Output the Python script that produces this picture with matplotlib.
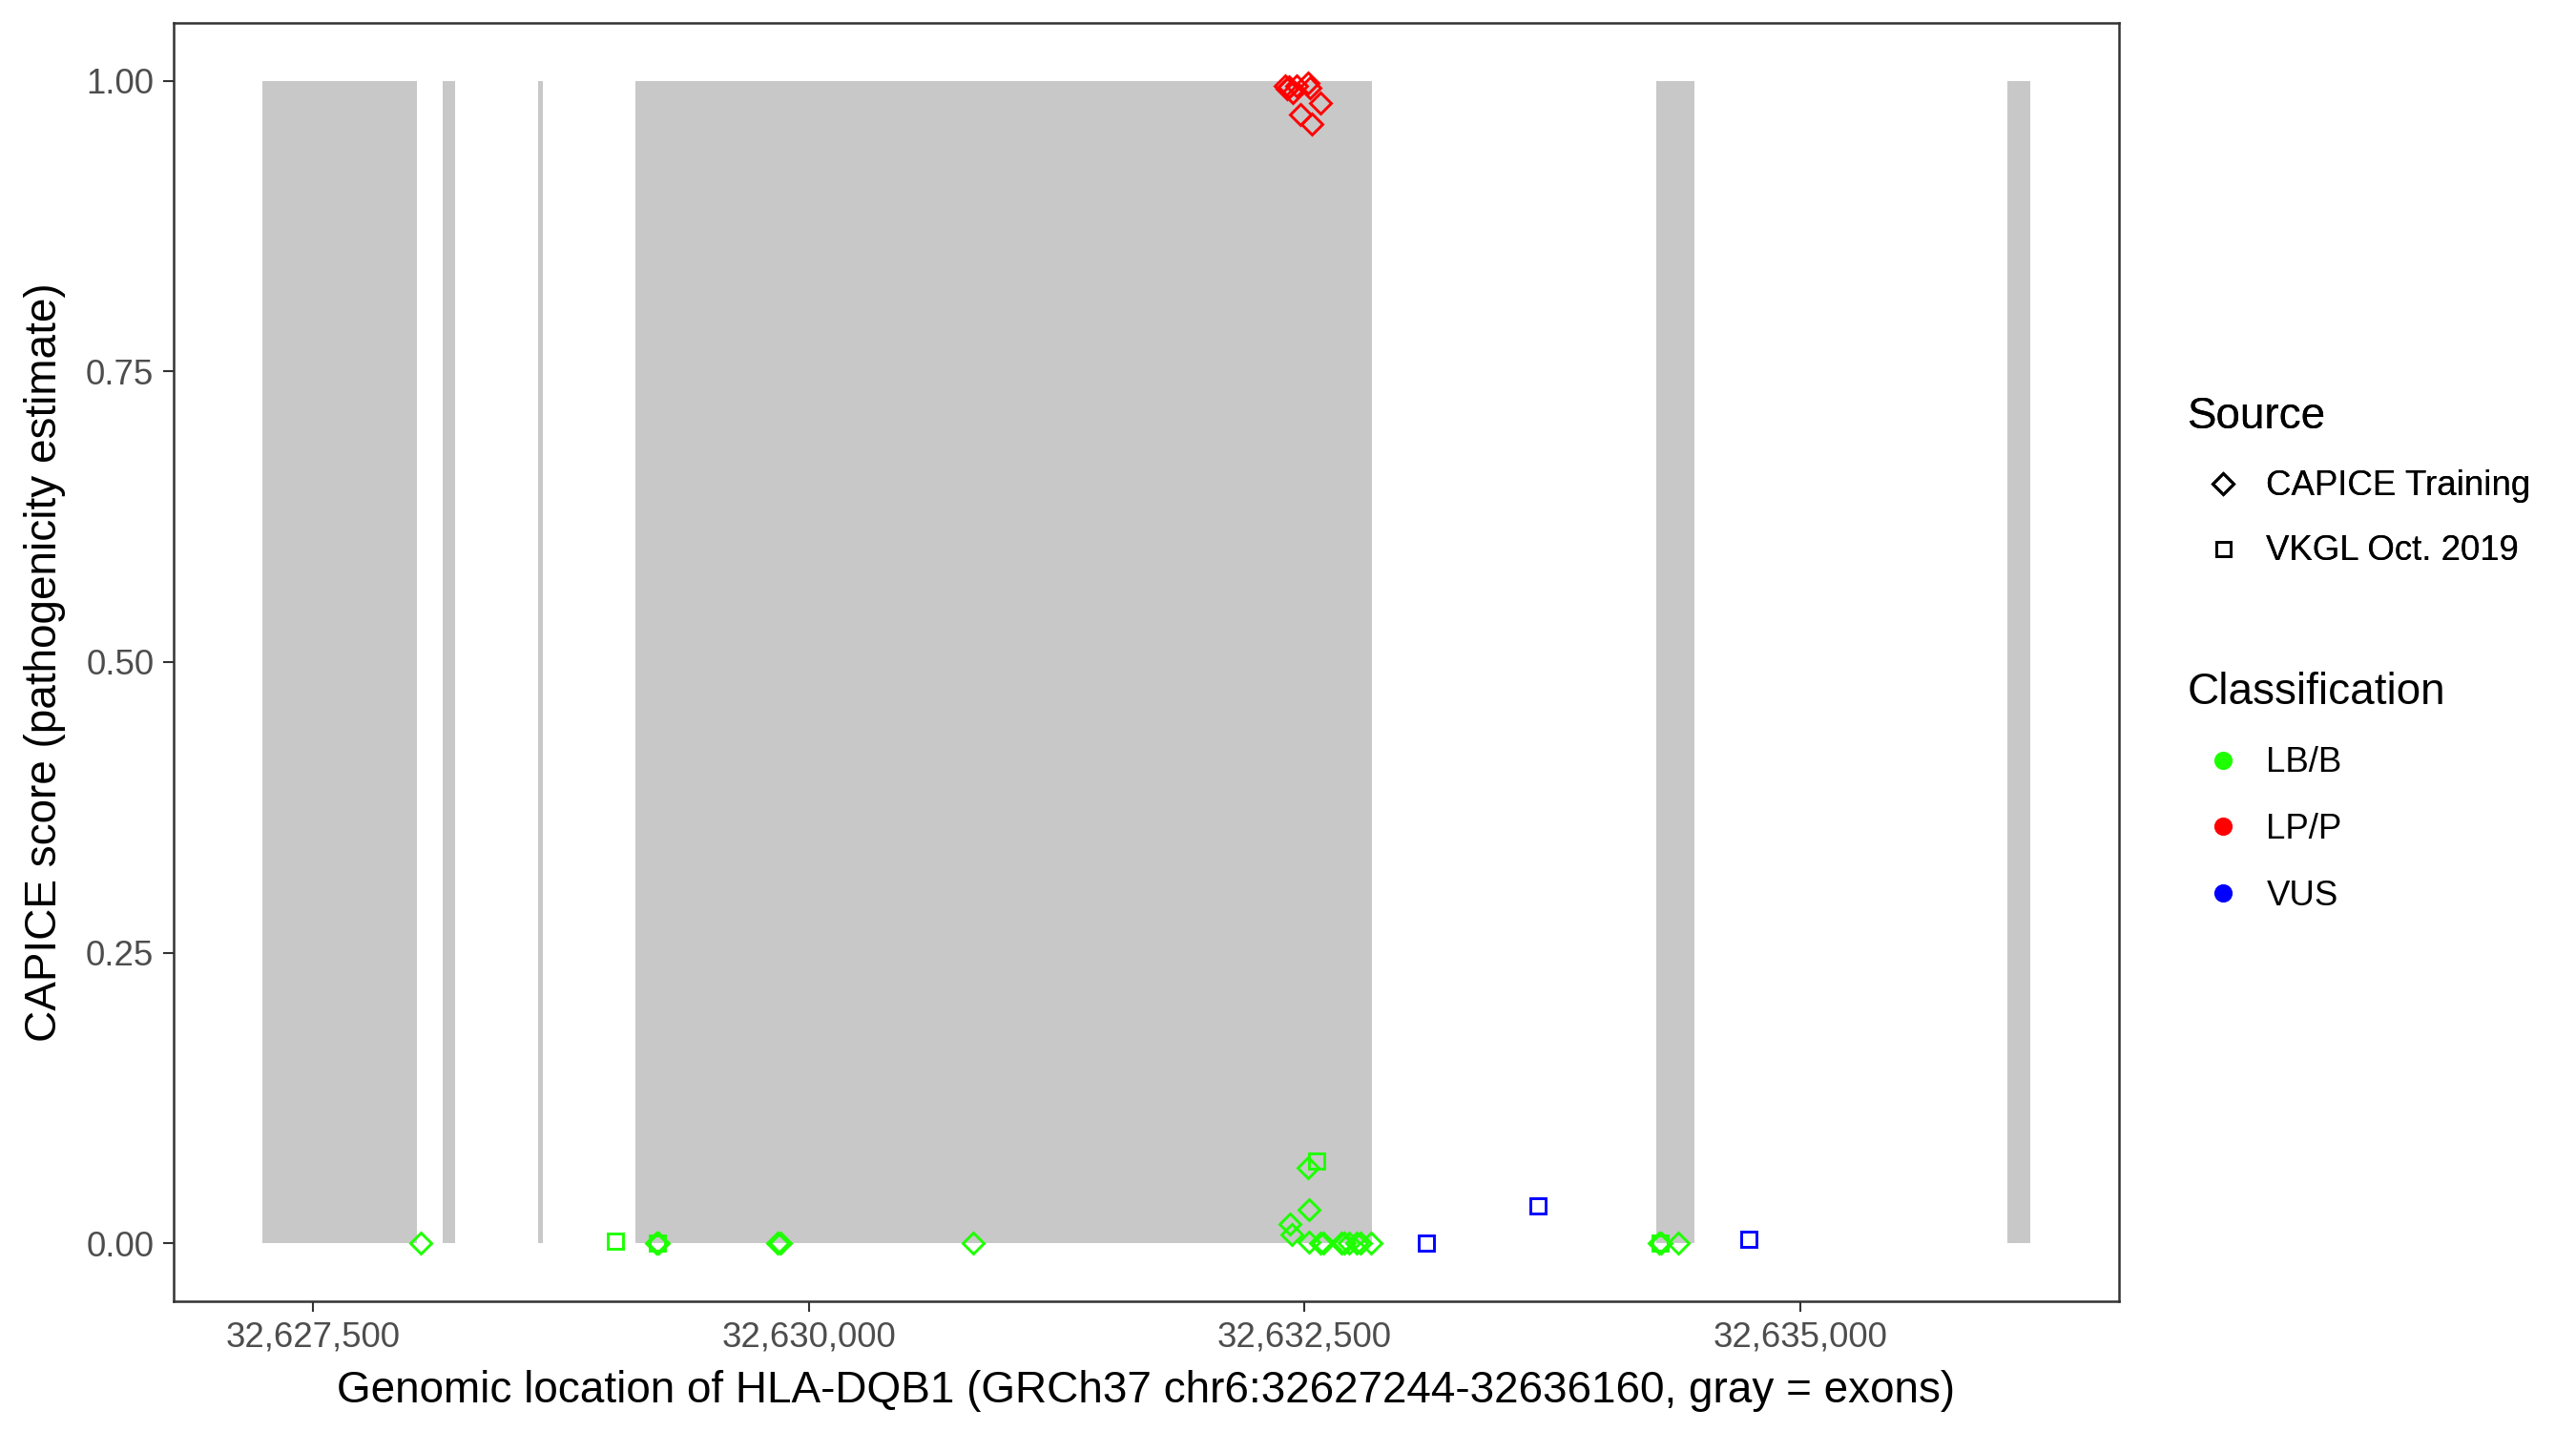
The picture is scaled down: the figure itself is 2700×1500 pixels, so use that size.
import numpy as np
import matplotlib.pyplot as plt
from matplotlib.lines import Line2D

plt.rcParams['font.family'] = ['Liberation Sans', 'DejaVu Sans']

# exons of HLA-DQB1 (gray bands)
exon_start = [32627244, 32628154, 32628634, 32629124, 32634275, 32636042]
exon_end = [32628024, 32628216, 32628658, 32632840, 32634467, 32636160]

# CAPICE training variants (diamonds)
capice_pos = [32628045, 32629230, 32629240, 32629845, 32629858, 32630828,
              32632516, 32632524, 32632425, 32632436, 32632521, 32632580,
              32632595, 32632684, 32632700, 32632724, 32632764, 32632780,
              32632836, 32634288, 32634298, 32634385,
              32632400, 32632412, 32632422, 32632441, 32632460, 32632516,
              32632528, 32632580, 32632481, 32632535]
capice_score = [0.0, 0.0, 0.0, 0.0, 0.0, 0.0,
                0.0646, 0.0285, 0.0167, 0.0071, 0.0006, 0.0,
                0.0, 0.0, 0.0, 0.0, 0.0, 0.0,
                0.0, 0.0, 0.0, 0.0,
                0.996, 0.993, 0.995, 0.990, 0.996, 0.998,
                0.994, 0.981, 0.971, 0.963]
capice_class = ['LB/B'] * 22 + ['LP/P'] * 10

# VKGL Oct. 2019 variants (squares)
vkgl_pos = [32629024, 32629236, 32632562, 32634293, 32633116, 32633677, 32634740]
vkgl_score = [0.0015, 0.0, 0.071, 0.0, 0.0, 0.032, 0.0037]
vkgl_class = ['LB/B', 'LB/B', 'LB/B', 'LB/B', 'VUS', 'VUS', 'VUS']

class_colors = {'LB/B': '#1EFF00', 'LP/P': '#FF0000', 'VUS': '#0000FF'}

fig = plt.figure(figsize=(9, 5), dpi=300)
ax = fig.add_axes([0.0674, 0.0907, 0.7552, 0.8933])

for s, e in zip(exon_start, exon_end):
    ax.axvspan(s, e, ymin=0.04545, ymax=0.95455, color='#C8C8C8', lw=0, zorder=1)

for pos, sc, cl in zip(capice_pos, capice_score, capice_class):
    ax.plot(pos, sc, marker='D', ms=3.7, mfc='none', mec=class_colors[cl],
            mew=0.7, ls='none', zorder=3)
for pos, sc, cl in zip(vkgl_pos, vkgl_score, vkgl_class):
    ax.plot(pos, sc, marker='s', ms=3.8, mfc='none', mec=class_colors[cl],
            mew=0.7, ls='none', zorder=3)

xmin, xmax = min(exon_start), max(exon_end)
pad = (xmax - xmin) * 0.05
ax.set_xlim(xmin - pad, xmax + pad)
ax.set_ylim(-0.05, 1.05)

ax.set_xticks([32627500, 32630000, 32632500, 32635000])
ax.set_xticklabels(['32,627,500', '32,630,000', '32,632,500', '32,635,000'])
ax.set_yticks([0, 0.25, 0.5, 0.75, 1.0])
ax.set_yticklabels(['0.00', '0.25', '0.50', '0.75', '1.00'])
ax.tick_params(labelsize=8.8, labelcolor='#4D4D4D', color='#333333',
               length=2.75, width=0.5, pad=2.2)
for sp in ax.spines.values():
    sp.set_color('#333333')
    sp.set_linewidth(0.6)

ax.set_xlabel('Genomic location of HLA-DQB1 (GRCh37 chr6:32627244-32636160, gray = exons)',
              fontsize=11, labelpad=4)
ax.set_ylabel('CAPICE score (pathogenicity estimate)', fontsize=11, labelpad=5)

src_handles = [
    Line2D([], [], marker='D', ms=3.7, mfc='none', mec='black', mew=0.7, ls='none'),
    Line2D([], [], marker='s', ms=3.6, mfc='none', mec='black', mew=0.7, ls='none'),
]
leg1 = fig.legend(src_handles, ['CAPICE Training', 'VKGL Oct. 2019'], title='Source',
                  loc='upper left', bbox_to_anchor=(0.837, 0.745), frameon=False,
                  fontsize=8.8, title_fontsize=11, alignment='left',
                  handlelength=2.0, handletextpad=0.25, labelspacing=0.9)
cls_handles = [Line2D([], [], marker='o', ms=3.6, mfc=class_colors[c], mec=class_colors[c],
                      ls='none') for c in ['LB/B', 'LP/P', 'VUS']]
leg2 = fig.legend(cls_handles, ['LB/B', 'LP/P', 'VUS'], title='Classification',
                  loc='upper left', bbox_to_anchor=(0.837, 0.553), frameon=False,
                  fontsize=8.8, title_fontsize=11, alignment='left',
                  handlelength=2.0, handletextpad=0.25, labelspacing=0.95)
fig.add_artist(leg1)

fig.savefig('out.png', dpi=300)
